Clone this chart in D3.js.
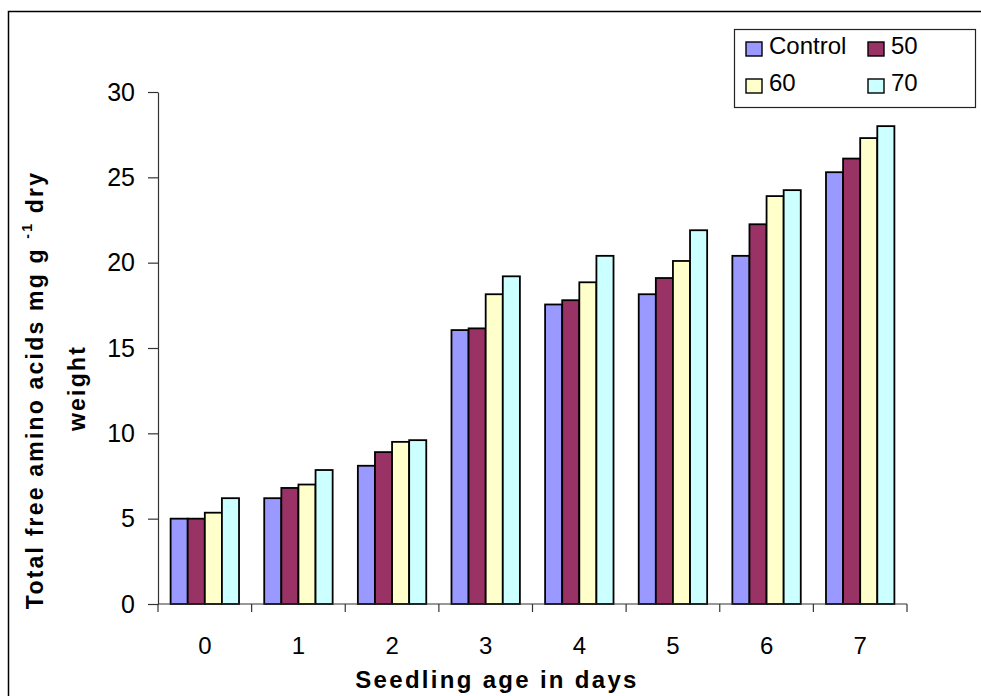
<!DOCTYPE html>
<html>
<head>
<meta charset="utf-8">
<script src="https://cdn.jsdelivr.net/npm/d3@7"></script>
<style>
  html, body { margin: 0; padding: 0; background: #fff; }
  svg { display: block; font-family: Arial, "Liberation Sans", sans-serif; }
</style>
</head>
<body>
<svg id="chart" width="981" height="696"></svg>
<script>
const days = ["0", "1", "2", "3", "4", "5", "6", "7"];
const seriesNames = ["Control", "50", "60", "70"];
const seriesColors = ["#9999FF", "#993366", "#FFFFCC", "#CCFFFF"];
const controlValues = [5.0, 6.2, 8.1, 16.05, 17.55, 18.15, 20.4, 25.3];
const values50 = [5.0, 6.8, 8.9, 16.15, 17.8, 19.1, 22.25, 26.1];
const values60 = [5.35, 7.0, 9.5, 18.15, 18.85, 20.1, 23.9, 27.3];
const values70 = [6.2, 7.85, 9.6, 19.2, 20.4, 21.9, 24.25, 28.0];
const yTicks = [0, 5, 10, 15, 20, 25, 30];

const allSeries = [controlValues, values50, values60, values70];

const svg = d3.select("#chart");

// outer frame
svg.append("rect")
  .attr("x", 8.5).attr("y", 11.5)
  .attr("width", 1000).attr("height", 1000)
  .attr("fill", "none").attr("stroke", "#000").attr("stroke-width", 1.5);

const plotLeft = 158, plotRight = 907, plotTop = 92, plotBottom = 604;

const x0 = d3.scaleBand().domain(days).range([plotLeft, plotRight]).padding(0);
const x1 = d3.scaleBand().domain(seriesNames).range([0, x0.bandwidth()])
  .paddingInner(0).paddingOuter(0.737);
const y = d3.scaleLinear().domain([0, 30]).range([plotBottom, plotTop]);

// bars
const groups = svg.append("g").selectAll("g")
  .data(days).join("g")
  .attr("transform", d => `translate(${x0(d)},0)`);

groups.selectAll("rect")
  .data((d, i) => seriesNames.map((s, j) => ({ s, j, v: allSeries[j][i] })))
  .join("rect")
  .attr("x", d => x1(d.s))
  .attr("y", d => y(d.v))
  .attr("width", x1.bandwidth())
  .attr("height", d => y(0) - y(d.v))
  .attr("fill", d => seriesColors[d.j])
  .attr("stroke", "#000")
  .attr("stroke-width", 1.8);

// y axis
const yAxis = svg.append("g")
  .attr("transform", `translate(${plotLeft},0)`)
  .call(d3.axisLeft(y).tickValues(yTicks).tickSize(10).tickPadding(13).tickSizeOuter(0));
yAxis.select(".domain").attr("stroke", "#333").attr("stroke-width", 1.2);
yAxis.selectAll(".tick line").attr("stroke", "#333").attr("stroke-width", 1.2);
yAxis.selectAll(".tick text")
  .attr("font-size", 25).attr("fill", "#000")
  .attr("font-family", "Arial, 'Liberation Sans', sans-serif");

// x axis: line + boundary ticks
const xAxisG = svg.append("g");
xAxisG.append("line")
  .attr("x1", plotLeft).attr("x2", plotRight)
  .attr("y1", plotBottom).attr("y2", plotBottom)
  .attr("stroke", "#333").attr("stroke-width", 1.2);
const boundaries = days.map(d => x0(d)).concat([x0(days[days.length - 1]) + x0.bandwidth()]);
xAxisG.selectAll("line.tk")
  .data(boundaries).join("line")
  .attr("class", "tk")
  .attr("x1", d => d).attr("x2", d => d)
  .attr("y1", plotBottom).attr("y2", plotBottom + 8)
  .attr("stroke", "#333").attr("stroke-width", 1.2);
xAxisG.selectAll("text")
  .data(days).join("text")
  .attr("x", d => x0(d) + x0.bandwidth() / 2)
  .attr("y", 654)
  .attr("text-anchor", "middle")
  .attr("font-size", 24)
  .text(d => d);

// x axis title
svg.append("text")
  .attr("x", 497).attr("y", 688)
  .attr("text-anchor", "middle")
  .attr("font-size", 24).attr("font-weight", "bold")
  .attr("letter-spacing", "2.3px")
  .text("Seedling age in days");

// y axis title (two lines)
const yt = svg.append("text")
  .attr("transform", "translate(43,390) rotate(-90)")
  .attr("text-anchor", "middle")
  .attr("font-size", 23).attr("font-weight", "bold")
  .attr("letter-spacing", "2.2px");
yt.append("tspan").text("Total free amino acids mg g ");
yt.append("tspan").attr("font-size", 14).attr("dy", -11).text("-1");
yt.append("tspan").attr("dy", 11).text(" dry");

svg.append("text")
  .attr("transform", "translate(85,388) rotate(-90)")
  .attr("text-anchor", "middle")
  .attr("font-size", 23).attr("font-weight", "bold")
  .attr("letter-spacing", "2.2px")
  .text("weight");

// legend
const lg = svg.append("g");
lg.append("rect")
  .attr("x", 734.5).attr("y", 29.5).attr("width", 241).attr("height", 78)
  .attr("fill", "#fff").attr("stroke", "#222").attr("stroke-width", 1.2);
const legPos = [[746, 42], [868, 42], [746, 79], [868, 79]];
seriesNames.forEach((s, i) => {
  const [lx, ly] = legPos[i];
  lg.append("rect")
    .attr("x", lx).attr("y", ly).attr("width", 16).attr("height", 14)
    .attr("fill", seriesColors[i]).attr("stroke", "#000").attr("stroke-width", 1.4);
  lg.append("text")
    .attr("x", lx + 23).attr("y", ly + 12)
    .attr("font-size", 24)
    .text(s);
});
</script>
</body>
</html>
